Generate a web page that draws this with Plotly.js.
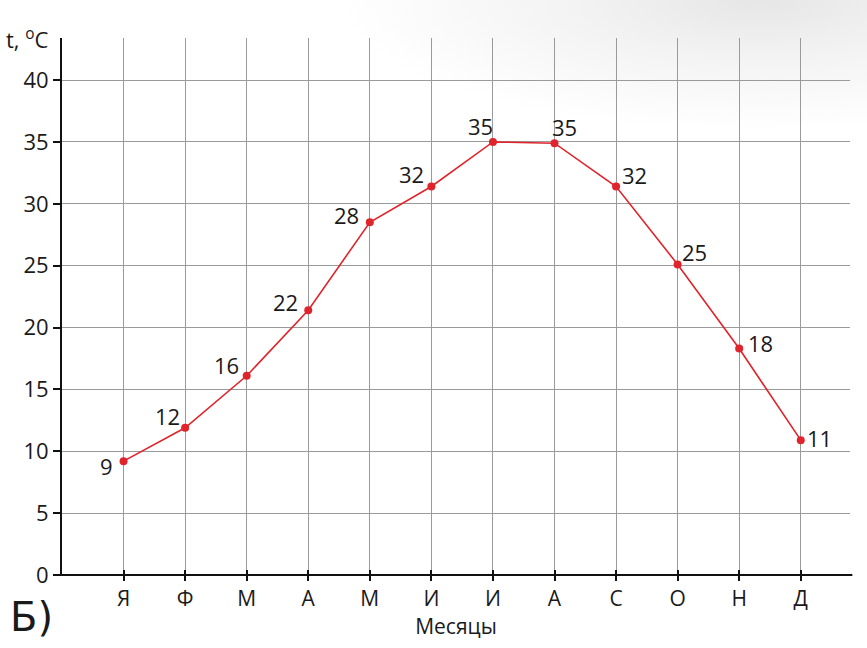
<!DOCTYPE html>
<html>
<head>
<meta charset="utf-8">
<script src="https://cdn.plot.ly/plotly-3.0.1.min.js"></script>
<style>
html,body{margin:0;padding:0;}
body{width:867px;height:648px;background:radial-gradient(ellipse 420px 130px at 760px 0px,#e6e6e6 0%,#f3f3f3 45%,#ffffff 100%);}
#chart{width:867px;height:648px;}
</style>
</head>
<body>
<div id="chart"></div>
<script>
const months = ["Я","Ф","М","А","М","И","И","А","С","О","Н","Д"];
const monthPos = [1,2,3,4,5,6,7,8,9,10,11,12];
const temps = [9.2, 11.9, 16.1, 21.4, 28.5, 31.4, 35.0, 34.9, 31.4, 25.1, 18.3, 10.9];
const labels = ["9","12","16","22","28","32","35","35","32","25","18","11"];
const yTicks = [0,5,10,15,20,25,30,35,40];
// label offsets (pixels) relative to each point: [dx, dy]
const labelOffsets = [[-17,-5],[-18,12],[-20,11],[-23,8],[-23,7],[-20,12],[-12,16],[10,16],[18,11],[17,12],[21,6],[19,2]];

const font = "Open Sans, Noto Sans, sans-serif";

const trace = {
  x: monthPos, y: temps, type: "scatter", mode: "lines+markers",
  line: {color: "#e0242b", width: 1.6},
  marker: {color: "#e0242b", size: 8},
  cliponaxis: false, hoverinfo: "skip", showlegend: false
};
const ghost = {x: monthPos, y: temps, xaxis: "x2", type: "scatter", mode: "none", hoverinfo: "skip", showlegend: false};

const annotations = labels.map((t, i) => ({
  x: monthPos[i], y: temps[i], xref: "x", yref: "y", text: t, showarrow: false,
  xanchor: "center", yanchor: "middle", xshift: labelOffsets[i][0], yshift: labelOffsets[i][1],
  font: {family: font, size: 22, color: "#1a1a1a"}
}));
annotations.push(
  {xref: "paper", yref: "paper", x: -0.074, y: 1.0, xanchor: "left", yanchor: "middle",
   text: "t, <sup>o</sup>C", showarrow: false, font: {family: font, size: 22, color: "#1a1a1a"}},
  {xref: "paper", yref: "paper", x: -0.068, y: -0.078, xanchor: "left", yanchor: "middle",
   text: "Б)", showarrow: false, font: {family: "DejaVu Sans, sans-serif", size: 40, color: "#1a1a1a"}}
);

const layout = {
  width: 867, height: 648,
  margin: {l: 62, r: 17, t: 38, b: 73},
  paper_bgcolor: "rgba(0,0,0,0)", plot_bgcolor: "rgba(0,0,0,0)",
  xaxis: {
    range: [0, 12.8], tickvals: monthPos, ticktext: months,
    showgrid: true, gridcolor: "#9a9a9a", gridwidth: 1,
    zeroline: false, showline: false,
    ticks: "outside", ticklen: 5, tickwidth: 2, tickcolor: "#111",
    tickfont: {family: font, size: 21, color: "#1a1a1a"},
    title: {text: "Месяцы", font: {family: font, size: 21, color: "#1a1a1a"}, standoff: 4}
  },
  xaxis2: {
    overlaying: "x", matches: "x", range: [0, 12.8], tickvals: monthPos,
    showticklabels: false, showgrid: false, zeroline: false, showline: false,
    ticks: "inside", ticklen: 5, tickwidth: 2, tickcolor: "#111", side: "bottom"
  },
  yaxis: {
    range: [0, 43.4], tickvals: yTicks,
    showgrid: true, gridcolor: "#9a9a9a", gridwidth: 1,
    zeroline: false, showline: true, linecolor: "#111", linewidth: 2,
    ticks: "outside", ticklen: 7, tickwidth: 2, tickcolor: "#111",
    tickfont: {family: font, size: 22, color: "#1a1a1a"}
  },
  shapes: [
    {type: "line", xref: "paper", yref: "paper", x0: -0.009, x1: 1.003, y0: 0, y1: 0, line: {color: "#111", width: 2}}
  ],
  annotations: annotations
};

Plotly.newPlot("chart", [trace, ghost], layout, {displayModeBar: false, staticPlot: true});
</script>
</body>
</html>
